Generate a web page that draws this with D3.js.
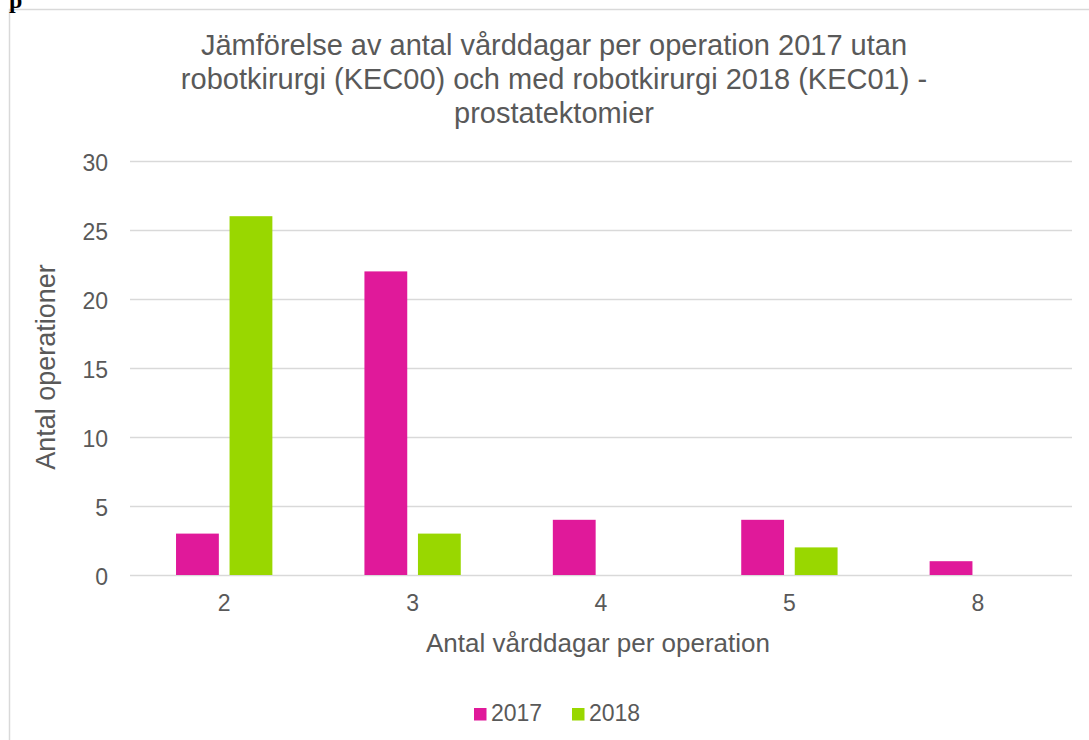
<!DOCTYPE html>
<html lang="en">
<head>
<meta charset="UTF-8">
<title>Vårddagar per operation</title>
<style>
  body { margin: 0; background: #fff; }
  svg text { font-family: "Liberation Sans", Arial, sans-serif; fill: #595959; }
</style>
<script src="https://d3js.org/d3.v7.min.js"></script>
</head>
<body>
<script>
// data
const categories = ["2", "3", "4", "5", "8"];
const seriesNames = ["2017", "2018"];
const values2017 = [3, 22, 4, 4, 1];
const values2018 = [26, 3, 0, 2, 0];
const yTicks = [0, 5, 10, 15, 20, 25, 30];
const titleLines = [
  "Jämförelse av antal vårddagar per operation 2017 utan",
  "robotkirurgi (KEC00) och med robotkirurgi 2018 (KEC01) -",
  "prostatektomier"
];
const colors = ["#e0199a", "#99d700"];

const width = 1089, height = 740;
const plot = { left: 130, right: 1072, top: 161, bottom: 575 };

const svg = d3.select("body").append("svg")
  .attr("width", width)
  .attr("height", height);

// chart frame (only top and left edges are visible in the picture)
svg.append("rect")
  .attr("x", 9.5).attr("y", 9.5)
  .attr("width", width + 20).attr("height", height + 20)
  .attr("fill", "none")
  .attr("stroke", "#d9d9d9")
  .attr("stroke-width", 1.5);

// bit of text from above the chart that is cut off at the top
svg.append("text")
  .attr("x", 9).attr("y", 8)
  .style("font-family", "'Liberation Serif', serif")
  .style("font-weight", "bold")
  .style("font-size", "24px")
  .style("fill", "#000")
  .text("p");

const x = d3.scaleBand().domain(categories).range([plot.left, plot.right]);
const xInner = d3.scaleBand().domain(seriesNames)
  .range([0, x.bandwidth()])
  .paddingInner(0.2).paddingOuter(0.86);
const y = d3.scaleLinear().domain([0, 30]).range([plot.bottom, plot.top]);

// gridlines + y labels
const yAxis = svg.append("g")
  .attr("transform", `translate(${plot.left},0)`)
  .call(d3.axisLeft(y).tickValues(yTicks).tickSize(-(plot.right - plot.left)).tickPadding(22));
yAxis.select(".domain").remove();
yAxis.selectAll(".tick line").attr("stroke", "#d9d9d9").attr("stroke-width", 1.5);
yAxis.selectAll(".tick text")
  .style("font-size", "23px")
  .attr("dy", "0.42em");

// bars
const rows = categories.map((c, i) => ({ cat: c, vals: [values2017[i], values2018[i]] }));
const groups = svg.selectAll(".grp")
  .data(rows)
  .join("g")
  .attr("class", "grp")
  .attr("transform", d => `translate(${x(d.cat)},0)`);

groups.selectAll("rect")
  .data(d => d.vals.map((v, j) => ({ name: seriesNames[j], v: v, j: j })))
  .join("rect")
  .attr("x", d => xInner(d.name))
  .attr("width", xInner.bandwidth())
  .attr("y", d => y(d.v))
  .attr("height", d => y(0) - y(d.v))
  .attr("fill", d => colors[d.j]);

// x labels
const xAxis = svg.append("g")
  .attr("transform", `translate(0,${plot.bottom})`)
  .call(d3.axisBottom(x).tickSize(0).tickPadding(20));
xAxis.select(".domain").remove();
xAxis.selectAll(".tick text").style("font-size", "23px");

// title
svg.append("text")
  .attr("text-anchor", "middle")
  .style("font-size", "29px")
  .selectAll("tspan")
  .data(titleLines)
  .join("tspan")
  .attr("x", 554)
  .attr("y", (d, i) => 55 + i * 34)
  .text(d => d);

// axis titles
svg.append("text")
  .attr("x", 598).attr("y", 652)
  .attr("text-anchor", "middle")
  .style("font-size", "26px")
  .text("Antal vårddagar per operation");

svg.append("text")
  .attr("transform", "translate(55,367) rotate(-90)")
  .attr("text-anchor", "middle")
  .style("font-size", "27px")
  .text("Antal operationer");

// legend
const legend = svg.append("g").attr("transform", "translate(474,708)");
const legendX = [0, 98];
seriesNames.forEach((name, i) => {
  legend.append("rect")
    .attr("x", legendX[i]).attr("y", 0)
    .attr("width", 12.5).attr("height", 12.5)
    .attr("fill", colors[i]);
  legend.append("text")
    .attr("x", legendX[i] + 17).attr("y", 12.5)
    .style("font-size", "23px")
    .text(name);
});
</script>
</body>
</html>
